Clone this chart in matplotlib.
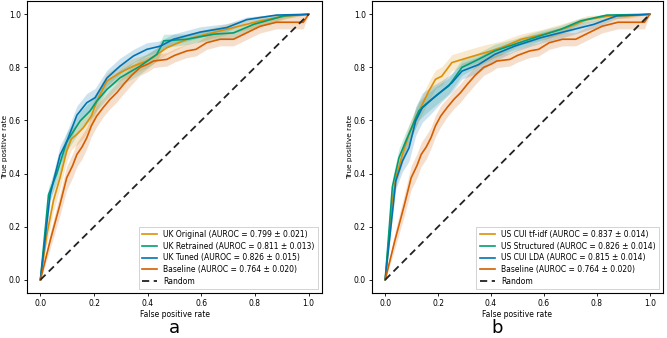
import matplotlib
matplotlib.use("Agg")
import matplotlib.pyplot as plt
import numpy as np

# ---------------- data ----------------
# Baseline (shared by both panels)
base_fpr = [0, 0.036, 0.073, 0.098, 0.12, 0.136, 0.155, 0.173, 0.19, 0.21, 0.235, 0.26, 0.285, 0.31, 0.34, 0.372, 0.40, 0.422, 0.471, 0.50, 0.546, 0.58, 0.62, 0.67, 0.72, 0.795, 0.82, 0.88, 0.98, 1.0]
base_tpr = [0, 0.146, 0.284, 0.384, 0.43, 0.472, 0.50, 0.535, 0.58, 0.617, 0.65, 0.68, 0.705, 0.736, 0.77, 0.80, 0.812, 0.824, 0.83, 0.845, 0.862, 0.868, 0.893, 0.906, 0.906, 0.943, 0.955, 0.97, 0.97, 1.0]
base_sd  = [0, 0.03, 0.04, 0.045, 0.045, 0.045, 0.045, 0.04, 0.04, 0.04, 0.035, 0.035, 0.035, 0.035, 0.035, 0.03, 0.028, 0.025, 0.025, 0.025, 0.025, 0.025, 0.025, 0.025, 0.025, 0.025, 0.025, 0.025, 0.025, 0]

# Panel a
uko_fpr = [0, 0.024, 0.049, 0.073, 0.098, 0.115, 0.136, 0.16, 0.19, 0.21, 0.248, 0.297, 0.347, 0.397, 0.43, 0.471, 0.546, 0.62, 0.72, 0.82, 0.92, 1.0]
uko_tpr = [0, 0.17, 0.30, 0.384, 0.485, 0.53, 0.548, 0.573, 0.617, 0.673, 0.749, 0.78, 0.805, 0.824, 0.845, 0.874, 0.906, 0.925, 0.95, 0.975, 0.994, 1.0]
uko_sd  = [0, 0.03, 0.04, 0.04, 0.04, 0.04, 0.04, 0.04, 0.035, 0.035, 0.03, 0.03, 0.03, 0.025, 0.025, 0.025, 0.02, 0.02, 0.02, 0.02, 0.01, 0]

ukr_fpr = [0, 0.03, 0.061, 0.098, 0.148, 0.185, 0.21, 0.248, 0.297, 0.372, 0.434, 0.46, 0.546, 0.646, 0.72, 0.795, 0.907, 1.0]
ukr_tpr = [0, 0.32, 0.40, 0.52, 0.598, 0.636, 0.673, 0.717, 0.761, 0.805, 0.849, 0.90, 0.906, 0.925, 0.93, 0.962, 0.994, 1.0]
ukr_sd  = [0, 0.03, 0.035, 0.035, 0.035, 0.035, 0.035, 0.035, 0.03, 0.03, 0.025, 0.025, 0.02, 0.02, 0.02, 0.015, 0.01, 0]

ukt_fpr = [0, 0.036, 0.073, 0.098, 0.136, 0.173, 0.204, 0.248, 0.297, 0.347, 0.397, 0.447, 0.496, 0.596, 0.695, 0.77, 0.88, 1.0]
ukt_tpr = [0, 0.32, 0.47, 0.52, 0.62, 0.667, 0.686, 0.76, 0.805, 0.843, 0.868, 0.88, 0.906, 0.933, 0.95, 0.98, 0.997, 1.0]
ukt_sd  = [0, 0.03, 0.035, 0.035, 0.035, 0.035, 0.035, 0.03, 0.03, 0.025, 0.025, 0.02, 0.02, 0.02, 0.015, 0.01, 0.005, 0]

# Panel b
tfidf_fpr = [0, 0.027, 0.04, 0.065, 0.09, 0.115, 0.14, 0.165, 0.19, 0.214, 0.252, 0.314, 0.377, 0.439, 0.514, 0.60, 0.688, 0.763, 0.85, 0.913, 1.0]
tfidf_tpr = [0, 0.30, 0.384, 0.472, 0.548, 0.61, 0.66, 0.711, 0.755, 0.767, 0.818, 0.837, 0.855, 0.874, 0.906, 0.925, 0.95, 0.98, 0.994, 0.994, 1.0]
tfidf_sd  = [0, 0.03, 0.035, 0.035, 0.035, 0.035, 0.035, 0.035, 0.035, 0.035, 0.03, 0.03, 0.03, 0.025, 0.02, 0.02, 0.02, 0.015, 0.01, 0.01, 0]

struct_fpr = [0, 0.027, 0.052, 0.077, 0.10, 0.127, 0.152, 0.19, 0.24, 0.29, 0.352, 0.414, 0.489, 0.564, 0.663, 0.738, 0.838, 1.0]
struct_tpr = [0, 0.35, 0.46, 0.52, 0.573, 0.636, 0.66, 0.692, 0.73, 0.80, 0.83, 0.862, 0.887, 0.912, 0.943, 0.975, 0.997, 1.0]
struct_sd  = [0, 0.03, 0.035, 0.035, 0.035, 0.035, 0.035, 0.035, 0.03, 0.03, 0.025, 0.025, 0.02, 0.02, 0.015, 0.01, 0.005, 0]

lda_fpr = [0, 0.04, 0.065, 0.09, 0.115, 0.14, 0.177, 0.214, 0.252, 0.29, 0.352, 0.414, 0.489, 0.589, 0.688, 0.788, 0.875, 1.0]
lda_tpr = [0, 0.372, 0.447, 0.497, 0.598, 0.648, 0.68, 0.711, 0.742, 0.786, 0.81, 0.849, 0.88, 0.912, 0.937, 0.962, 0.994, 1.0]
lda_sd  = [0, 0.03, 0.04, 0.05, 0.055, 0.055, 0.05, 0.04, 0.035, 0.03, 0.03, 0.025, 0.02, 0.02, 0.02, 0.015, 0.01, 0]

labels_a = ["UK Original (AUROC = 0.799 \u00b1 0.021)",
            "UK Retrained (AUROC = 0.811 \u00b1 0.013)",
            "UK Tuned (AUROC = 0.826 \u00b1 0.015)",
            "Baseline (AUROC = 0.764 \u00b1 0.020)"]
labels_b = ["US CUI tf-idf (AUROC = 0.837 \u00b1 0.014)",
            "US Structured (AUROC = 0.826 \u00b1 0.014)",
            "US CUI LDA (AUROC = 0.815 \u00b1 0.014)",
            "Baseline (AUROC = 0.764 \u00b1 0.020)"]
panel_letters = ["a", "b"]
ticks = [0.0, 0.2, 0.4, 0.6, 0.8, 1.0]

# ---------------- styling ----------------
C_BLUE, C_ORANGE, C_GREEN, C_RED = "#0173B2", "#DE8F05", "#029E73", "#D55E00"
plt.rcParams["font.family"] = ["DejaVu Sans"]

fig = plt.figure(figsize=(6.67, 3.38), dpi=100)
ax_a = fig.add_axes([0.0405, 0.133, 0.4423, 0.864])
ax_b = fig.add_axes([0.5577, 0.133, 0.4363, 0.864])

def draw(ax, series, labels, letter, cx):
    for (f, t, s, c), lab in zip(series, labels):
        f = np.array(f); t = np.array(t); s = np.array(s)
        ax.fill_between(f, np.clip(t - s, 0, 1), np.clip(t + s, 0, 1), color=c, alpha=0.2, lw=0)
        ax.plot(f, t, color=c, lw=1.2, label=lab)
    ax.plot([0, 1], [0, 1], color="#222222", ls="--", lw=1.3, dashes=(4, 2.5), label="Random")
    ax.set_xticks(ticks); ax.set_yticks(ticks)
    ax.set_xticklabels([f"{v:.1f}" for v in ticks], fontsize=5.5)
    ax.set_yticklabels([f"{v:.1f}" for v in ticks], fontsize=5.5)
    ax.tick_params(length=2.5, width=0.6, pad=2)
    ax.set_xlabel("False positive rate", fontsize=5.5, labelpad=1.5)
    ax.set_ylabel("True positive rate", fontsize=5.3, labelpad=0.5)
    ax.set_xlim(-0.05, 1.05); ax.set_ylim(-0.05, 1.05)
    for sp in ax.spines.values():
        sp.set_linewidth(0.8)
    leg = ax.legend(loc="lower right", fontsize=5.5, frameon=True, fancybox=False,
                    borderpad=0.45, handlelength=2.0, labelspacing=0.35,
                    framealpha=1, edgecolor="#cccccc")
    leg.get_frame().set_linewidth(0.6)
    fig.text(cx, 0.004, letter, fontsize=13, ha="center", va="bottom")

series_a = [(uko_fpr, uko_tpr, uko_sd, C_ORANGE),
            (ukr_fpr, ukr_tpr, ukr_sd, C_GREEN),
            (ukt_fpr, ukt_tpr, ukt_sd, C_BLUE),
            (base_fpr, base_tpr, base_sd, C_RED)]
series_b = [(tfidf_fpr, tfidf_tpr, tfidf_sd, C_ORANGE),
            (struct_fpr, struct_tpr, struct_sd, C_GREEN),
            (lda_fpr, lda_tpr, lda_sd, C_BLUE),
            (base_fpr, base_tpr, base_sd, C_RED)]

draw(ax_a, series_a, labels_a, panel_letters[0], 0.262)
draw(ax_b, series_b, labels_b, panel_letters[1], 0.745)

fig.savefig("out.png", dpi=100)
